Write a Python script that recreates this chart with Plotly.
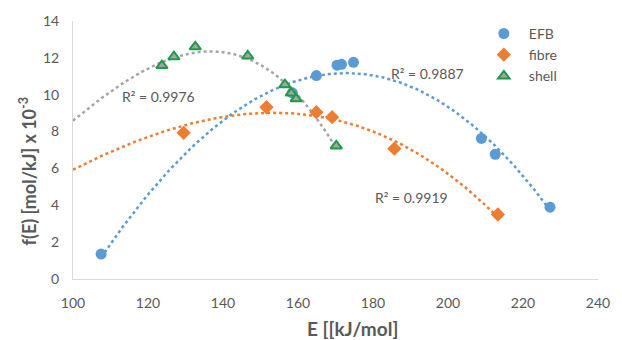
import numpy as np
import plotly.graph_objects as go

# ---- data ----
efb_E = [107.5, 158.5, 164.9, 170.4, 171.6, 174.8, 208.9, 212.6, 227.2]
efb_f = [1.35, 10.1, 11.04, 11.6, 11.65, 11.76, 7.63, 6.77, 3.9]

fibre_E = [129.5, 151.6, 164.9, 169.1, 185.7, 213.3]
fibre_f = [7.93, 9.32, 9.05, 8.78, 7.07, 3.5]

shell_E = [123.7, 126.9, 132.6, 146.6, 156.5, 158.2, 159.5, 170.2]
shell_f = [11.58, 12.06, 12.6, 12.1, 10.54, 10.09, 9.78, 7.22]

r2_labels = {"EFB": "R² = 0.9887", "fibre": "R² = 0.9919", "shell": "R² = 0.9976"}

# trendline curves: sample points
trend_efb_E = [107.5, 117.5, 126.2, 135.0, 143.7, 155.9, 164.8, 176.2, 189.3, 199.8, 209.0, 219.0, 227.3]
trend_efb_f = [1.35, 3.72, 6.05, 7.66, 9.19, 10.45, 11.05, 11.29, 10.72, 9.28, 7.63, 5.69, 3.93]

trend_fibre_E = [100.0, 129.5, 139.3, 152.4, 154.3, 164.7, 169.1, 180.5, 193.4, 206.5, 213.0]
trend_fibre_f = [5.96, 8.24, 8.74, 9.01, 9.05, 8.96, 8.74, 8.02, 6.41, 4.61, 3.50]

trend_shell_E = [100.0, 123.6, 135.0, 146.3, 156.4, 169.9]
trend_shell_f = [8.60, 11.70, 12.39, 12.06, 10.57, 7.22]

BLUE = "#5B9BD5"
ORANGE = "#ED7D31"
GREEN = "#1E9C45"
GREY = "#A5A5A5"
TXT = "#595959"
FONT = "Lato"

fig = go.Figure()

def trend(xs, ys, color):
    c = np.polyfit(xs, ys, 3)
    xx = np.linspace(min(xs), max(xs), 200)
    fig.add_trace(go.Scatter(x=xx, y=np.polyval(c, xx), mode="lines",
                             line=dict(color=color, width=2.5, dash="dot"),
                             showlegend=False, hoverinfo="skip"))

trend(trend_shell_E, trend_shell_f, GREY)
trend(trend_fibre_E, trend_fibre_f, ORANGE)
trend(trend_efb_E, trend_efb_f, BLUE)

fig.add_trace(go.Scatter(x=efb_E, y=efb_f, mode="markers", name="EFB",
                         marker=dict(symbol="circle", size=11, color=BLUE)))
fig.add_trace(go.Scatter(x=fibre_E, y=fibre_f, mode="markers", name="fibre",
                         marker=dict(symbol="diamond", size=11, color=ORANGE)))
fig.add_trace(go.Scatter(x=shell_E, y=shell_f, mode="markers", name="shell",
                         marker=dict(symbol="triangle-up", size=10, color=GREY,
                                     line=dict(color=GREEN, width=2))))

# R² labels (data coordinates)
for txt, x, y in [(r2_labels["shell"], 122.9, 9.91), (r2_labels["EFB"], 194.4, 11.16),
                  (r2_labels["fibre"], 190.3, 4.43)]:
    fig.add_annotation(x=x, y=y, xref="x", yref="y", text=txt, showarrow=False,
                       font=dict(family=FONT, size=14, color=TXT))

# axis titles
fig.add_annotation(x=0.533, y=-0.192, xref="paper", yref="paper", text="<b>E [[kJ/mol]</b>",
                   xanchor="center", yanchor="middle",
                   showarrow=False, font=dict(family=FONT, size=19, color=TXT))
fig.add_annotation(x=-0.086, y=0.42, xref="paper", yref="paper",
                   text="<b>f(E) [mol/kJ] x 10<sup>-3</sup></b>", textangle=-90,
                   xanchor="center", yanchor="middle",
                   showarrow=False, font=dict(family=FONT, size=18, color=TXT))

fig.update_layout(
    width=622, height=340,
    margin=dict(l=73, r=15, t=19, b=61),
    paper_bgcolor="white", plot_bgcolor="white",
    font=dict(family=FONT, color=TXT),
    legend=dict(x=0.773, y=1.012, xanchor="left", yanchor="top", itemwidth=40,
                font=dict(family=FONT, size=14, color=TXT), bgcolor="rgba(0,0,0,0)"),
    xaxis=dict(range=[100, 240], dtick=20, showgrid=False, zeroline=False,
               showline=True, linecolor="#D9D9D9", linewidth=1, ticklabelstandoff=11,
               tickfont=dict(family=FONT, size=14, color=TXT), ticks=""),
    yaxis=dict(range=[0, 14], dtick=2, showgrid=False, zeroline=False,
               showline=True, linecolor="#D9D9D9", linewidth=1, ticklabelstandoff=10,
               tickfont=dict(family=FONT, size=14, color=TXT), ticks=""),
)

fig.write_html("out.html", config={"displayModeBar": False},
               post_script="document.body.style.margin='0px';")
